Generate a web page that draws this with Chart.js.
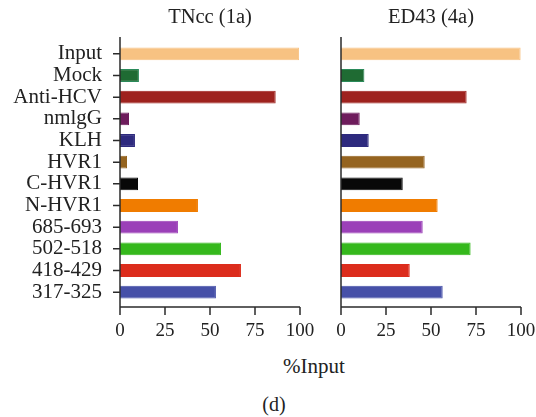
<!DOCTYPE html>
<html>
<head>
<meta charset="utf-8">
<script src="https://cdn.jsdelivr.net/npm/chart.js@4.4.1/dist/chart.umd.min.js"></script>
<style>
  body { margin: 0; background: #fff; }
  #wrap { position: relative; width: 536px; height: 417px; font-family: "Liberation Serif", serif; color: #222; }
  #wrap canvas { position: absolute; left: 0; top: 0; }
  .lbl { position: absolute; transform: translate(-50%, -50%); white-space: nowrap; }
</style>
</head>
<body>
<div id="wrap">
  <canvas id="left" width="536" height="345"></canvas>
  <canvas id="right" width="536" height="345"></canvas>
  <div class="lbl" style="left:314px; top:366px; font-size:21px;">%Input</div>
  <div class="lbl" style="left:274px; top:404px; font-size:20px;">(d)</div>
</div>
<script>
const categories = ['Input', 'Mock', 'Anti-HCV', 'nmlgG', 'KLH', 'HVR1', 'C-HVR1', 'N-HVR1', '685-693', '502-518', '418-429', '317-325'];
const tnccValues = [99.5, 10.5, 86.5, 5, 8.3, 3.9, 10, 43.3, 32.2, 56.1, 67.2, 53.3];
const ed43Values = [99.8, 13, 69.8, 10.4, 15.4, 46.5, 34.3, 53.7, 45.4, 72, 38.2, 56.5];
const barColors = ['#f7c282', '#1f6b33', '#9e221e', '#6e1c5c', '#2e2a7e', '#956420',
  '#080808', '#f07c00', '#9b40b8', '#35b81c', '#dc2c1c', '#4650a8'];
const borderColors = barColors.map((c, i) => i === 1 ? '#2a8a5a' : c);

const family = '"Liberation Serif", serif';

// axis lines and tick marks, drawn a few px off the plot like the figure
const axisLines = {
  id: 'axisLines',
  afterDraw(chart, args, opts) {
    const { ctx, chartArea, scales: { x, y } } = chart;
    const axisY = chartArea.bottom + 4;
    ctx.save();
    ctx.strokeStyle = '#2b2b2b';
    ctx.lineWidth = 1.5;
    ctx.beginPath();
    ctx.moveTo(chartArea.left, chartArea.top - 6);
    ctx.lineTo(chartArea.left, axisY);
    ctx.lineTo(chartArea.right, axisY);
    x.ticks.forEach((t, i) => {
      const px = x.getPixelForTick(i);
      ctx.moveTo(px, axisY);
      ctx.lineTo(px, axisY + 8);
    });
    if (opts.yTicks) {
      y.ticks.forEach((t, i) => {
        const py = y.getPixelForTick(i);
        ctx.moveTo(chartArea.left - 7, py);
        ctx.lineTo(chartArea.left, py);
      });
    }
    ctx.stroke();
    ctx.restore();
  }
};

function makePanel(id, title, values, showLabels, padding) {
  return new Chart(document.getElementById(id), {
    type: 'bar',
    data: {
      labels: categories,
      datasets: [{
        data: values,
        backgroundColor: barColors,
        borderColor: borderColors,
        borderWidth: 1,
        barPercentage: 0.59,
        categoryPercentage: 1
      }]
    },
    options: {
      indexAxis: 'y',
      responsive: false,
      animation: false,
      layout: { padding: padding },
      plugins: {
        legend: { display: false },
        tooltip: { enabled: false },
        title: {
          display: true,
          text: title,
          fullSize: false,
          color: '#222',
          font: { family: family, size: 20.5, weight: 'normal', lineHeight: 1.2 },
          padding: { top: 5, bottom: 13.4 }
        },
        axisLines: { yTicks: showLabels }
      },
      scales: {
        x: {
          min: 0,
          max: 100,
          grid: { display: false, tickLength: 8 },
          border: { display: false },
          ticks: { stepSize: 25, color: '#222', font: { family: family, size: 19 }, padding: 9, maxRotation: 0, autoSkip: false },
          afterFit: (s) => { s.height = 42; s.paddingLeft = 0; s.paddingRight = 0; }
        },
        y: {
          grid: { display: false, tickLength: 8 },
          border: { display: false },
          ticks: { display: showLabels, color: '#222', font: { family: family, size: 21 }, padding: 10, autoSkip: false },
          afterFit: (s) => { s.width = showLabels ? 120 : 0; s.paddingTop = 0; s.paddingBottom = 0; }
        }
      }
    },
    plugins: [axisLines]
  });
}

makePanel('left', 'TNcc (1a)', tnccValues, true, { left: 0, right: 236, top: 0, bottom: 0 });
makePanel('right', 'ED43 (4a)', ed43Values, false, { left: 341, right: 15, top: 0, bottom: 0 });
</script>
</body>
</html>
